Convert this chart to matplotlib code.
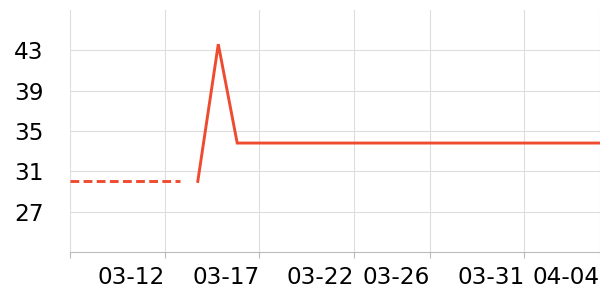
import matplotlib
matplotlib.use('Agg')
import matplotlib.pyplot as plt
import pandas as pd

# dashed part (earlier values)
dash_dates = ['2024-03-07 00:00', '2024-03-12 20:00']
dash_values = [30, 30]

# solid part
solid_dates = ['2024-03-13 18:00', '2024-03-14 20:00', '2024-03-15 20:00', '2024-04-04 00:00']
solid_values = [30, 43.6, 33.8, 33.8]

tick_dates = ['2024-03-12', '2024-03-17', '2024-03-22', '2024-03-26', '2024-03-31', '2024-04-04']
y_ticks = [27, 31, 35, 39, 43]

color = '#ee4b2f'

fig = plt.figure(figsize=(6, 3), dpi=100)
ax = fig.add_axes([0.1167, 0.16, 0.8833, 0.807])

ax.plot(pd.to_datetime(dash_dates), dash_values, color=color, lw=2.1, dashes=(3.0, 1.5))
ax.plot(pd.to_datetime(solid_dates), solid_values, color=color, lw=2.1, solid_joinstyle='miter')

ax.set_xlim(pd.Timestamp('2024-03-07'), pd.Timestamp('2024-04-04'))
ax.set_ylim(23, 47)

xt = list(pd.to_datetime(tick_dates))
ax.set_xticks([pd.Timestamp('2024-03-07')] + xt)
ax.set_xticklabels([''] + [d.strftime('%m-%d') for d in xt], ha='right')
ax.set_yticks(y_ticks)

ax.grid(True, color='#dddddd', lw=0.8)
ax.set_axisbelow(True)
for s in ['top', 'right', 'left']:
    ax.spines[s].set_visible(False)
ax.spines['bottom'].set_color('#bbbbbb')

ax.tick_params(axis='y', length=0, pad=19, labelsize=16.7)
ax.tick_params(axis='x', length=4, color='#bbbbbb', pad=6, labelsize=16.7)

fig.savefig('out.png', dpi=100)
